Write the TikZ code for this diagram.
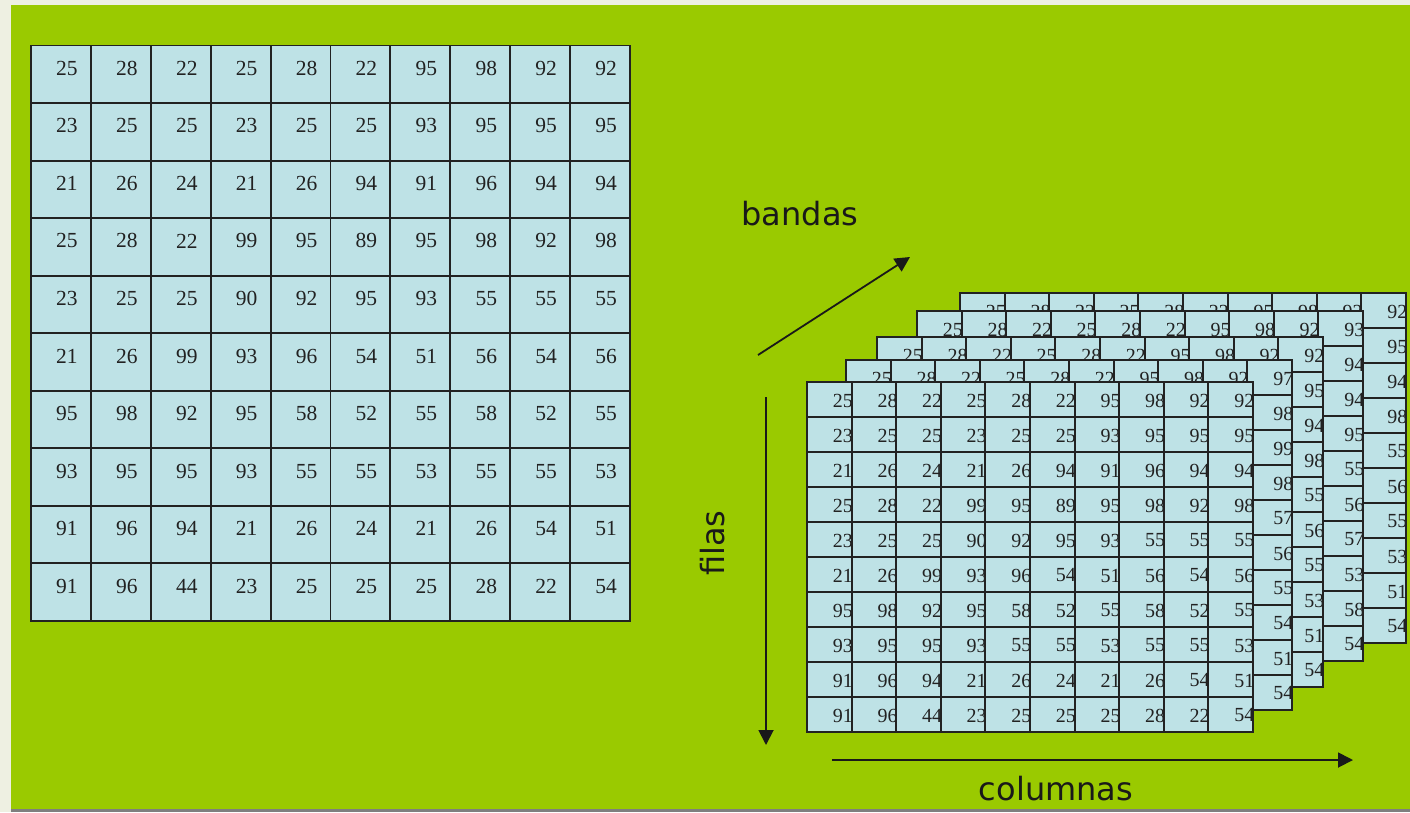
\documentclass[tikz,border=0pt]{standalone}
\usepackage{fontspec}
\setmainfont{Liberation Serif}
\newfontfamily\axisfont{DejaVu Sans}
\usetikzlibrary{arrows.meta,positioning}
\definecolor{cSlide}{HTML}{9ACA00}
\definecolor{cMargin}{HTML}{EEF0E2}
\definecolor{cFoot}{HTML}{7F7F7F}
\definecolor{cCell}{HTML}{BEE2E6}
\definecolor{cRule}{HTML}{222222}
\tikzset{
  cellbox/.style = {rectangle, fill=cCell, inner sep=0pt, outer sep=0pt},
  cellbig/.style = {cellbox, minimum width=59.9pt, minimum height=57.6pt},
  cellsml/.style = {cellbox, minimum width=44.6pt, minimum height=35pt},
  rule/.style    = {draw=cRule, line width=1.9pt},
  valbig/.style  = {inner sep=0pt, text=cRule, font=\fontsize{21.5}{21.5}\selectfont},
  valsml/.style  = {inner sep=0pt, text=cRule, anchor=east, font=\fontsize{20}{20}\selectfont},
  axis/.style    = {-{Triangle[length=15pt,width=15pt]}, draw=black!90, line width=1.8pt},
  axlab/.style   = {inner sep=0pt, text=black!90, font=\axisfont\fontsize{32}{32}\selectfont},
}
% one band of the image, row by row
\def\bandvals{{25,28,22,25,28,22,95,98,92,92},
  {23,25,25,23,25,25,93,95,95,95},
  {21,26,24,21,26,94,91,96,94,94},
  {25,28,22,99,95,89,95,98,92,98},
  {23,25,25,90,92,95,93,55,55,55},
  {21,26,99,93,96,54,51,56,54,56},
  {95,98,92,95,58,52,55,58,52,55},
  {93,95,95,93,55,55,53,55,55,53},
  {91,96,94,21,26,24,21,26,54,51},
  {91,96,44,23,25,25,25,28,22,54}}

\begin{document}
\begin{tikzpicture}[x=1pt, y=-1pt]
  \useasboundingbox (0,0) rectangle (1410,812);
  \fill[cMargin] (0,0) rectangle (1410,812);
  \fill[cSlide] (11,5) rectangle (1410,809);
  \fill[cFoot] (11,809) rectangle (1410,812);

  % single band
  \foreach \row [count=\r] in \bandvals {
    \foreach \v [count=\c] in \row {
      \node[cellbig] (img-\r-\c) at ({31+59.9*(\c-0.5)},{45.5+57.55*(\r-0.5)}) {};
      \node[valbig] (iv-\r-\c) at ([xshift=6pt,yshift=6pt]img-\r-\c.center) {\v};
      \draw[rule] (img-\r-\c.north west) rectangle (img-\r-\c.south east);
    }
  }

  % stacked bands, back to front (only the top row and last column of the back ones show)
  \foreach \l/\ox/\oy/\lastcol in {5/960/293/{92,95,94,98,55,56,55,53,51,54},
                                   4/917/311/{93,94,94,95,55,56,57,53,58,54},
                                   3/877/337/{92,95,94,98,55,56,55,53,51,54},
                                   2/846/360/{97,98,99,98,57,56,55,54,51,54},
                                   1/807/382/{92,95,94,98,55,56,55,53,51,54}} {
    \foreach \row [count=\r] in \bandvals {
      \pgfmathtruncatemacro{\lastv}{{\lastcol}[\r-1]}
      \foreach \v [count=\c] in \row {
        \ifnum\c=10 \let\v\lastv \fi
        \node[cellsml] (b\l-\r-\c) at ({\ox+44.6*(\c-0.5)},{\oy+35*(\r-0.5)}) {};
        \pgfmathtruncatemacro{\shown}{(\l==1)||(\r==1)||(\c==10)}
        \ifnum\shown=1
          \node[valsml] (bv\l-\r-\c) at ([xshift=1.5pt,yshift=-1pt]b\l-\r-\c.east) {\v};
        \fi
        \draw[rule] (b\l-\r-\c.north west) rectangle (b\l-\r-\c.south east);
      }
    }
  }

  % axes
  \coordinate (bandFrom) at (758,355);
  \coordinate (bandTo)   at (910,257);
  \coordinate (rowFrom)  at (766,397);
  \coordinate (rowTo)    at (766,745);
  \coordinate (colFrom)  at (832,760);
  \coordinate (colTo)    at (1353,760);
  \draw[axis] (bandFrom) -- (bandTo);
  \draw[axis] (rowFrom) -- (rowTo);
  \draw[axis] (colFrom) -- (colTo);
  \node[axlab] (bandas) at (800,214) {bandas};
  \node[axlab, rotate=90] (filas) at (713,543) {filas};
  \node[axlab] (columnas) at (1056,789) {columnas};
\end{tikzpicture}
\end{document}
